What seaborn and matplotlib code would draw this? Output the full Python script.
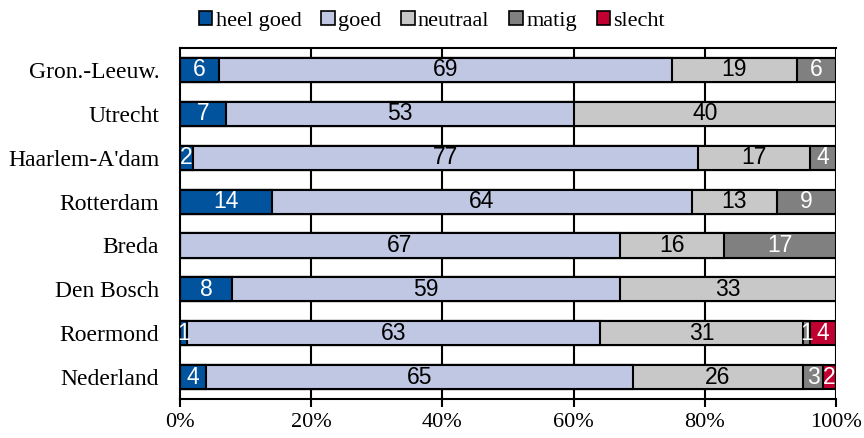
import numpy as np
import pandas as pd
import matplotlib
matplotlib.use("Agg")
import matplotlib.pyplot as plt
import seaborn as sns
from matplotlib.patches import Patch

regions = ["Gron.-Leeuw.", "Utrecht", "Haarlem-A'dam", "Rotterdam", "Breda",
           "Den Bosch", "Roermond", "Nederland"]
categories = ["heel goed", "goed", "neutraal", "matig", "slecht"]
heel_goed = [6, 7, 2, 14, 0, 8, 1, 4]
goed = [69, 53, 77, 64, 67, 59, 63, 65]
neutraal = [19, 40, 17, 13, 16, 33, 31, 26]
matig = [6, 0, 4, 9, 17, 0, 1, 3]
slecht = [0, 0, 0, 0, 0, 0, 4, 2]
x_ticks = [0, 20, 40, 60, 80, 100]

colors = ["#00539C", "#C0C7E3", "#C8C8C8", "#808080", "#C00030"]
text_colors = ["white", "black", "black", "white", "white"]

sns.set_theme(style="white")
plt.rcParams["font.family"] = ["Liberation Serif", "DejaVu Serif"]
plt.rcParams.update({"text.color": "black", "xtick.color": "black",
                     "ytick.color": "black", "axes.labelcolor": "black"})

series = [heel_goed, goed, neutraal, matig, slecht]
vals = np.array(series, dtype=float)
cum = np.cumsum(vals, axis=0)

fig, ax = plt.subplots(figsize=(8.64, 4.38), dpi=100)
fig.subplots_adjust(left=0.2083, right=0.9676, top=0.8904, bottom=0.089)

# vertical grid lines behind the bars
for t in x_ticks[1:]:
    ax.axvline(t, color="black", lw=1.5, zorder=0)

# stacked bars drawn as overlapping cumulative totals, longest first
for i in range(len(categories) - 1, -1, -1):
    df = pd.DataFrame({"region": regions, "value": cum[i]})
    sns.barplot(data=df, x="value", y="region", orient="h", color=colors[i],
                saturation=1, width=0.55, edgecolor="black", linewidth=1.5,
                ax=ax, zorder=2)

# segment value labels
for i in range(len(categories)):
    starts = cum[i] - vals[i]
    for r in range(len(regions)):
        v = vals[i, r]
        if v <= 0:
            continue
        ax.text(starts[r] + v / 2, r, f"{int(v)}", ha="center", va="center",
                color=text_colors[i], fontsize=16.5,
                family=["Liberation Sans", "DejaVu Sans"], zorder=3)

ax.set_xlim(0, 100)
ax.set_ylim(len(regions) - 0.5, -0.5)
ax.set_xticks(x_ticks)
ax.set_xticklabels([f"{t}%" for t in x_ticks], fontsize=16)
ax.set_xlabel("")
ax.set_ylabel("")
ax.tick_params(axis="y", length=0, labelsize=17, pad=15)
ax.tick_params(axis="x", direction="out", length=6, width=1.5, color="black",
               bottom=True, pad=4)

for side in ["left", "bottom", "top"]:
    ax.spines[side].set_visible(True)
    ax.spines[side].set_color("black")
    ax.spines[side].set_linewidth(1.5)
ax.spines["right"].set_visible(False)

handles = [Patch(facecolor=c, edgecolor="black", linewidth=1.2, label=l)
           for c, l in zip(colors, categories)]
fig.legend(handles=handles, loc="upper center", bbox_to_anchor=(0.5, 1.02),
           ncol=5, frameon=False, fontsize=16, handlelength=0.6,
           handleheight=0.6, handletextpad=0.15, columnspacing=0.9)

fig.savefig("out.png", dpi=100)
